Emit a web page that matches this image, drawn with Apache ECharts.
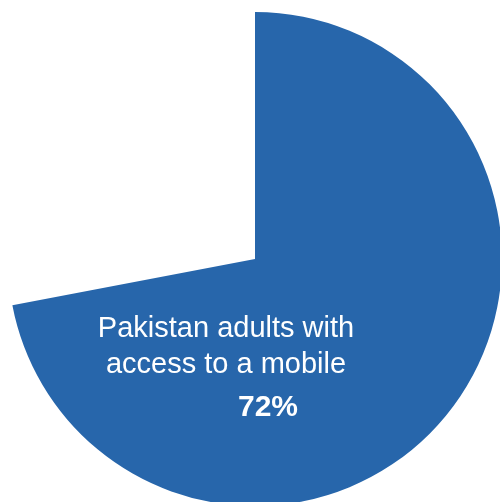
<!DOCTYPE html>
<html>
<head>
<meta charset="utf-8">
<script src="https://cdn.jsdelivr.net/npm/echarts@6/dist/echarts.min.js"></script>
<style>
  html, body { margin: 0; padding: 0; background: #ffffff; }
  #chart { width: 500px; height: 502px; }
</style>
</head>
<body>
<div id="chart"></div>
<script>
// Share of Pakistani adults with access to a mobile phone
const categories = ['Pakistan adults with access to a mobile', 'Without access'];
const shares = [72, 28];
const labelLines = ['Pakistan adults with', 'access to a mobile'];

const chart = echarts.init(document.getElementById('chart'), null, { renderer: 'canvas' });

const font = '"Liberation Sans", Arial, Helvetica, sans-serif';

chart.setOption({
  animation: false,
  backgroundColor: '#ffffff',
  series: [{
    type: 'pie',
    center: [255, 259],
    radius: [0, 247],
    startAngle: 90,
    clockwise: true,
    silent: true,
    label: { show: false },
    labelLine: { show: false },
    itemStyle: { borderWidth: 0 },
    data: [
      { name: categories[0], value: shares[0], itemStyle: { color: '#2766ab' } },
      { name: categories[1], value: shares[1], itemStyle: { color: 'rgba(255,255,255,0)' } }
    ]
  }],
  graphic: {
    elements: [
      {
        type: 'text', silent: true, z: 100, x: 226, y: 329,
        style: { text: labelLines[0], fill: '#ffffff',
          font: '29px ' + font, align: 'center', verticalAlign: 'middle' }
      },
      {
        type: 'text', silent: true, z: 100, x: 226, y: 365,
        style: { text: labelLines[1], fill: '#ffffff',
          font: '29px ' + font, align: 'center', verticalAlign: 'middle' }
      },
      {
        type: 'text', silent: true, z: 100, x: 268, y: 408,
        style: { text: shares[0] + '%', fill: '#ffffff',
          font: 'bold 30px ' + font, align: 'center', verticalAlign: 'middle' }
      }
    ]
  }
});
</script>
</body>
</html>
